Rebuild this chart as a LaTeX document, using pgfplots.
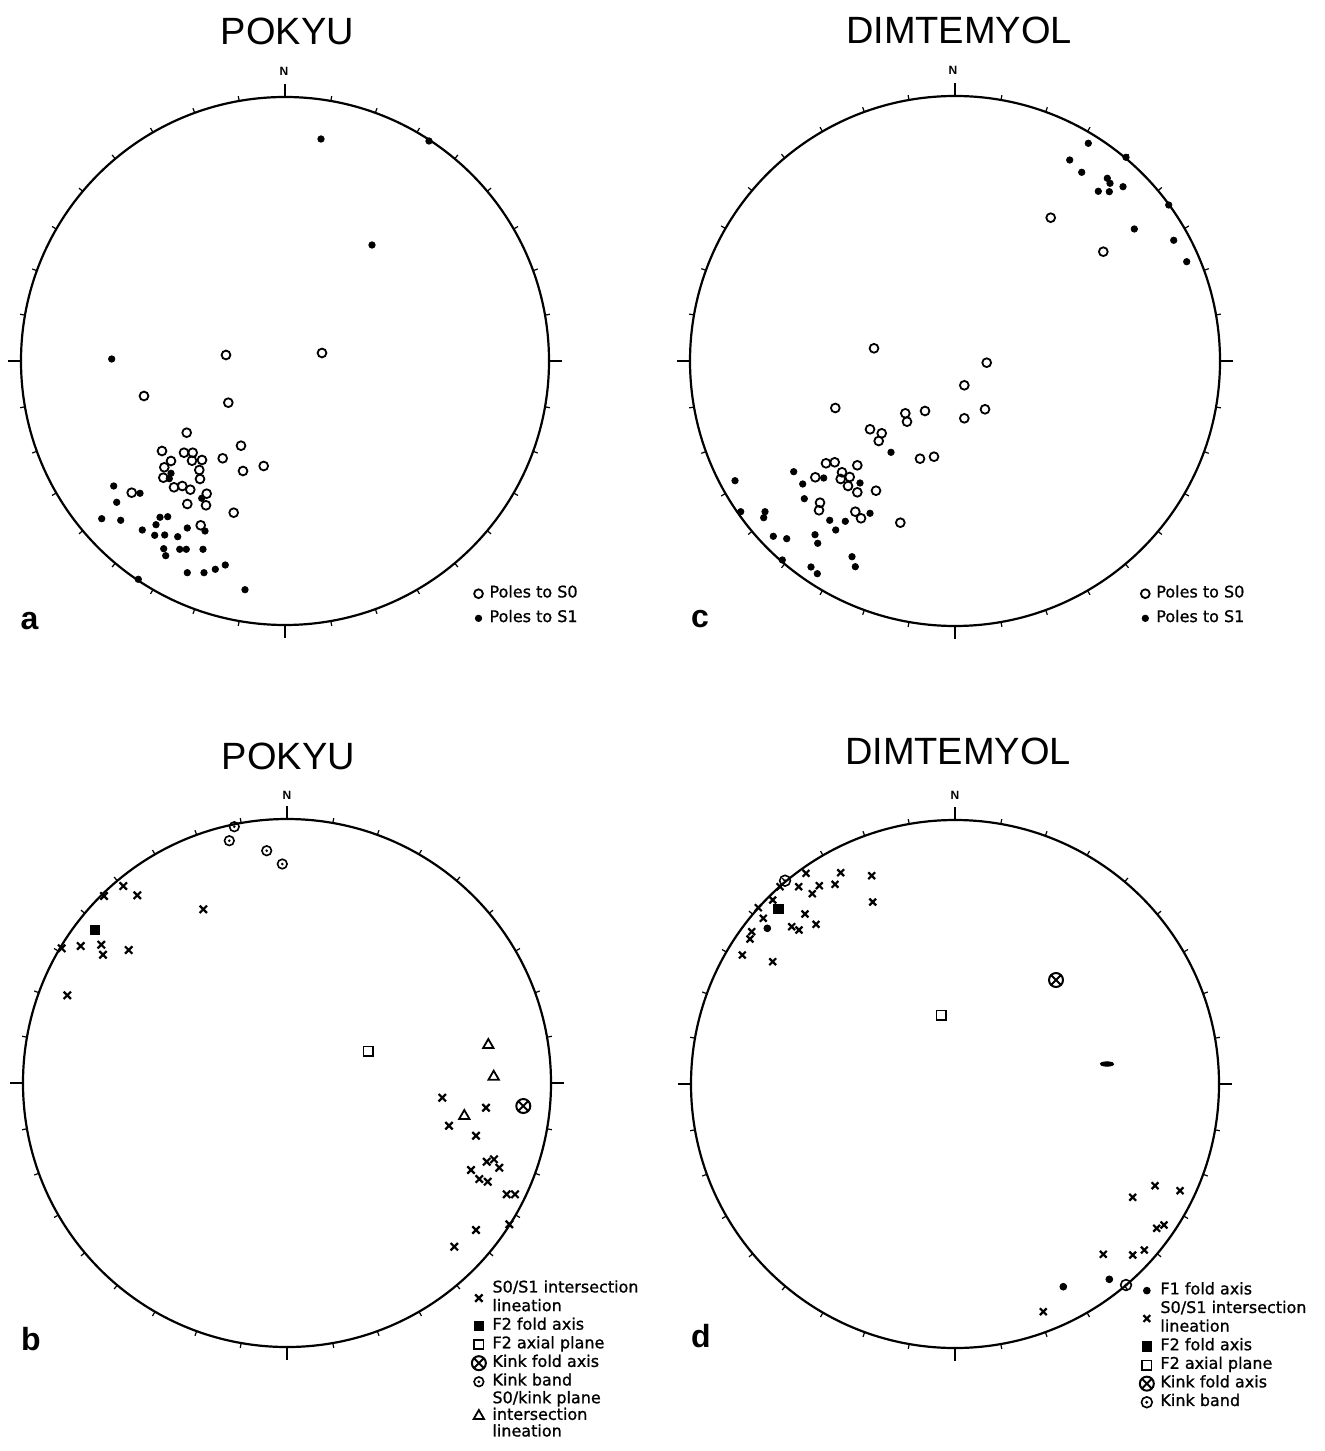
\documentclass[border=0pt]{standalone}
\usepackage{fontspec}
\setmainfont{Liberation Sans}
\newfontfamily\legfont[FakeBold=1]{DejaVu Sans}
\usepackage{pgfplots}
\pgfplotsset{compat=1.18}
\usetikzlibrary{plotmarks}

\pgfdeclareplotmark{odot}{%
  \pgfpathcircle{\pgfpointorigin}{\pgfplotmarksize}\pgfusepathqstroke
  \pgfpathcircle{\pgfpointorigin}{0.3\pgfplotmarksize}\pgfusepathqfill}

\newcommand{\legtxt}[2][1]{{\def\arraystretch{#1}\begin{tabular}{@{}l@{}}#2\end{tabular}}}

\pgfplotsset{
  panel/.style={width=662pt,height=725.5pt,scale only axis,
    xmin=0,xmax=1324,ymin=0,ymax=1451,y dir=reverse,hide axis,clip=false,
    legend cell align=left,
    legend style={draw=none,fill=none,font=\legfont\fontsize{8}{9.3}\selectfont,
      inner sep=0pt,row sep=0pt,column sep=2.5pt,
      nodes={inner xsep=0.8pt,inner ysep=0pt,text depth=,text height=,anchor=west}}},
  pts/.style={only marks, black,
    legend image code/.code={\draw[##1] plot coordinates {(0.15cm,0cm)};}},
}

% stereonet frame: cx, cy (pixel coords), radius, minor tick end, major tick end
\newcommand{\stereo}[5]{%
  \draw[line width=1.1pt] (axis cs:#1,#2) circle[radius=#3];
  \pgfplotsinvokeforeach{0,10,...,350}{\draw[line width=0.6pt] ([shift={(##1:#3)}]axis cs:#1,#2) -- ([shift={(##1:#4)}]axis cs:#1,#2);}
  \pgfplotsinvokeforeach{0,90,180,270}{\draw[line width=0.7pt] ([shift={(##1:#3)}]axis cs:#1,#2) -- ([shift={(##1:#5)}]axis cs:#1,#2);}
}

\begin{document}
\begin{tikzpicture}
\path[use as bounding box] (0,0) rectangle (662pt,725.5pt);

% ---------------- panel a ----------------
\begin{axis}[panel, legend style={at={(0.3578,0.5975)},anchor=north west,row sep=3pt}]
\stereo{285}{361}{132pt}{134.5pt}{138.5pt}
\node[font=\bfseries\fontsize{6}{7}\selectfont] at (axis cs:284,71) {N};
\node[font=\fontsize{19}{22}\selectfont] at (axis cs:287.5,31.5) {POKYU};
\node[font=\bfseries\fontsize{16}{18}\selectfont] at (axis cs:29.5,621) {a};
\addplot[pts, mark=o, mark size=2.2pt, mark options={line width=0.9pt}] coordinates {
(144,396) (228.3,402.7) (186.7,432.7) (162,451) (184,452.7) (192.7,452.7) (171,461)
(192,460.7) (202,460) (241,445.7) (222.7,458.3) (263.7,466) (243,471) (164.3,467.3)
(199.3,470) (163.3,477.7) (200,479) (174,487.3) (182.3,486) (190.3,489.7) (131.7,492.7)
(206.7,493.7) (187.3,504) (206,505.3) (233.7,512.7) (200.7,525.3) (226,355) (322,353)
};
\addlegendentry{\legtxt{Poles to S0}}
\addplot[pts, mark=*, mark size=1.6pt] coordinates {
(113.7,486) (140,493.3) (116.7,502.3) (101.7,518.7) (120.7,520.3) (160,517.3) (167.7,516.7)
(156,524.7) (142.3,530) (154.7,535.3) (164.7,535) (177.7,536.7) (187.3,528) (205,531)
(163.7,548.7) (165.7,555.7) (179.7,549.3) (186.3,549.3) (203,549.3) (187.3,572.7)
(204,572.7) (215.3,569.3) (225.3,565) (245,589.7) (138.3,579.3) (171,473.3) (169.3,478.7)
(201.7,498.3) (321,139) (429,141) (372,245) (111.7,359)
};
\addlegendentry{\legtxt{Poles to S1}}
\end{axis}

% ---------------- panel c ----------------
\begin{axis}[panel, legend style={at={(0.8614,0.5975)},anchor=north west,row sep=3pt}]
\stereo{955}{361}{132.5pt}{135pt}{139pt}
\node[font=\bfseries\fontsize{6}{7}\selectfont] at (axis cs:953,70) {N};
\node[font=\fontsize{19}{22}\selectfont] at (axis cs:959,30) {DIMTEMYOL};
\node[font=\bfseries\fontsize{16}{18}\selectfont] at (axis cs:700,619) {c};
\addplot[pts, mark=o, mark size=2.2pt, mark options={line width=0.9pt}] coordinates {
(874,348.3) (986.7,362.7) (964.3,385.3) (835.3,408) (905.3,413.3) (907,421.7) (925,411)
(964.3,418.3) (985,409.3) (870,429.3) (881.7,433.3) (878.7,441) (920,458.7) (934,456.7)
(826,463.3) (834.7,462.3) (857.3,465.3) (815.3,477.3) (842,472.3) (849.7,477) (840.7,479)
(848,486) (857.3,492.3) (876,490.7) (820,502.7) (819,510.3) (855.3,511.7) (861,518.3)
(900.3,522.7) (1050.7,217.7) (1103.3,251.7)
};
\addlegendentry{\legtxt{Poles to S0}}
\addplot[pts, mark=*, mark size=1.6pt] coordinates {
(891,452.3) (793.7,471.7) (823.7,478) (802.7,484) (860,483) (735,480.7) (804.3,498.7)
(740.7,511.7) (765,511.7) (763.7,517.7) (870,513.3) (829.7,520.3) (845.3,521.3) (835.7,530)
(773.3,536.3) (786.7,538.7) (815,534.7) (817.7,543.3) (782.3,560) (811,567) (817.3,573.7)
(852,556.7) (855.3,566.7)
(1088.3,143.3) (1069.7,160) (1081.7,172.3) (1107.3,178.3) (1110,183.3) (1098.3,191.3)
(1109.3,191.7) (1123,186.7) (1126,157.3) (1168.7,205) (1134.3,229) (1173.7,240.3) (1186.7,261.7)
};
\addlegendentry{\legtxt{Poles to S1}}
\end{axis}

% ---------------- panel b ----------------
\begin{axis}[panel, legend style={at={(0.3561,0.1185)},anchor=north west}]
\stereo{287}{1083}{132pt}{134.5pt}{138.5pt}
\node[font=\bfseries\fontsize{6}{7}\selectfont] at (axis cs:287,795) {N};
\node[font=\fontsize{19}{22}\selectfont] at (axis cs:288.5,756) {POKYU};
\node[font=\bfseries\fontsize{16}{18}\selectfont] at (axis cs:31,1339) {b};
\addplot[pts, mark=x, mark size=2.6pt, mark options={line width=1.1pt}] coordinates {
(123.3,886) (137.3,895.3) (104,896) (203.3,909.3) (80.7,946) (61.7,948.3) (101.3,944.7)
(103,954.7) (128.7,950) (67.3,995.3)
(442.3,1097.7) (486,1107.7) (449,1125.7) (476,1135.7) (486.7,1161.7) (494,1159.3)
(499.3,1167.7) (471,1170) (479.3,1179) (487.7,1181.7) (506.7,1194.3) (515,1194.3)
(509.3,1224.3) (476,1230) (454.3,1246.7)
};
\addlegendentry{\legtxt{S0/S1 intersection\\lineation}}
\addplot[pts, mark=square*, mark size=2.3pt] coordinates {(95,930)};
\addlegendentry{\legtxt{F2 fold axis}}
\addplot[pts, mark=square, mark size=2.3pt, mark options={line width=0.9pt}] coordinates {(368,1051)};
\addlegendentry{\legtxt{F2 axial plane}}
\addplot[pts, mark=otimes, mark size=3.5pt, mark options={line width=1pt}] coordinates {(523.3,1106)};
\addlegendentry{\legtxt{Kink fold axis}}
\addplot[pts, mark=odot, mark size=2.4pt, mark options={line width=0.8pt}] coordinates {
(234.3,826.7) (229.3,840.7) (266.7,850.7) (282.3,864)
};
\addlegendentry{\legtxt{Kink band}}
\addplot[pts, mark=triangle, mark size=3pt, mark options={line width=0.9pt}] coordinates {
(488.3,1045) (493.7,1076.7) (464.3,1116)
};
\addlegendentry{\legtxt[0.8]{S0/kink plane\\intersection\\lineation}}
\end{axis}

% ---------------- panel d ----------------
\begin{axis}[panel, legend style={at={(0.8606,0.1172)},anchor=north west}]
\stereo{955}{1084}{132pt}{134.5pt}{138.5pt}
\node[font=\bfseries\fontsize{6}{7}\selectfont] at (axis cs:955,795) {N};
\node[font=\fontsize{19}{22}\selectfont] at (axis cs:958,751) {DIMTEMYOL};
\node[font=\bfseries\fontsize{16}{18}\selectfont] at (axis cs:701,1336) {d};
\addplot[pts, mark=*, mark size=1.7pt] coordinates {
(767.3,928.3) (1063.3,1286.7) (1109.3,1279.3)
};
\addlegendentry{\legtxt{F1 fold axis}}
\addplot[pts, mark=*, mark size=1.7pt, mark options={xscale=2,yscale=0.65,rotate=-12}, forget plot] coordinates {(1107,1064)};
\addplot[pts, mark=x, mark size=2.4pt, mark options={line width=1.1pt}] coordinates {
(806,873.3) (840.7,872.7) (871.7,875.7) (798.7,886.7) (819.3,885.7) (835,884.3) (812.3,893.7)
(872.7,902) (780,886.7) (772.7,900) (758.3,907.7) (763.3,918.3) (805,914) (816,924.3)
(791.7,926.7) (799,930) (751.7,931.7) (750,939) (742.3,955) (772.7,961.7)
(1155,1185.7) (1180,1190.7) (1132.7,1197.3) (1156.7,1228.3) (1164,1225) (1103.3,1254.3)
(1132.7,1255) (1144.3,1250) (1043.3,1311.7)
};
\addlegendentry{\legtxt{S0/S1 intersection\\lineation}}
\addplot[pts, mark=square*, mark size=2.3pt] coordinates {(778.3,909)};
\addlegendentry{\legtxt{F2 fold axis}}
\addplot[pts, mark=square, mark size=2.3pt, mark options={line width=0.9pt}] coordinates {(941,1015)};
\addlegendentry{\legtxt{F2 axial plane}}
\addplot[pts, mark=otimes, mark size=3.5pt, mark options={line width=1pt}] coordinates {(1056,980)};
\addlegendentry{\legtxt{Kink fold axis}}
\addplot[pts, mark=odot, mark size=2.7pt, mark options={line width=0.8pt}] coordinates {
(785,880.7) (1126,1285)
};
\addlegendentry{\legtxt{Kink band}}
\end{axis}
\end{tikzpicture}
\end{document}
